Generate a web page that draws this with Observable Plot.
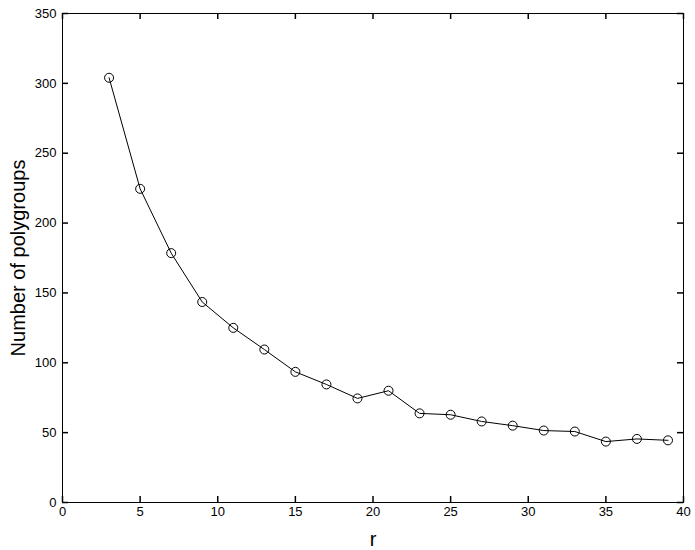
<!DOCTYPE html>
<html>
<head>
<meta charset="utf-8">
<script src="https://cdn.jsdelivr.net/npm/d3@7"></script>
<script src="https://cdn.jsdelivr.net/npm/@observablehq/plot@0.6"></script>
<style>
  html, body { margin: 0; padding: 0; background: #fff; }
  #chart svg { display: block; }
</style>
</head>
<body>
<div id="chart"></div>
<script>
const rValues = [3, 5, 7, 9, 11, 13, 15, 17, 19, 21, 23, 25, 27, 29, 31, 33, 35, 37, 39];
const polygroups = [304, 224.5, 178.5, 143.5, 125, 109.5, 93.5, 84.5, 74.5, 80, 63.8, 62.8, 58, 55, 51.5, 50.8, 43.6, 45.5, 44.5];
const xTicks = [0, 5, 10, 15, 20, 25, 30, 35, 40];
const yTicks = [0, 50, 100, 150, 200, 250, 300, 350];
const xDomain = [0, 40];
const yDomain = [0, 350];

const data = rValues.map((r, i) => ({r, n: polygroups[i]}));

const W = 695, H = 550, ML = 62, MR = 12, MT = 13, MB = 48, TICK = 6;
const frameW = W - ML - MR, frameH = H - MT - MB;
const tickLenY = (yDomain[1] - yDomain[0]) * TICK / frameH;
const tickLenX = (xDomain[1] - xDomain[0]) * TICK / frameW;

const tickStyle = {stroke: "#000", strokeWidth: 1.5, strokeOpacity: 1};

const chart = Plot.plot({
  width: W,
  height: H,
  marginLeft: ML,
  marginRight: MR,
  marginTop: MT,
  marginBottom: MB,
  style: {fontFamily: "'Liberation Sans', Arial, sans-serif", fontSize: "13px", color: "#000", background: "#fff"},
  x: {domain: xDomain},
  y: {domain: yDomain},
  marks: [
    Plot.frame({stroke: "#000", strokeWidth: 1}),
    Plot.axisX(xTicks, {anchor: "bottom", tickSize: 0, tickPadding: 4, label: "r", labelAnchor: "center", labelOffset: 43, labelArrow: "none", fontSize: 13}),
    Plot.axisY(yTicks, {anchor: "left", tickSize: 0, tickPadding: 6, label: "Number of polygroups", labelAnchor: "center", labelOffset: 52, labelArrow: "none", fontSize: 13}),
    Plot.ruleX(xTicks, {x: d => d, y1: yDomain[0], y2: yDomain[0] + tickLenY, ...tickStyle}),
    Plot.ruleX(xTicks, {x: d => d, y1: yDomain[1] - tickLenY, y2: yDomain[1], ...tickStyle}),
    Plot.ruleY(yTicks, {y: d => d, x1: xDomain[0], x2: xDomain[0] + tickLenX, ...tickStyle}),
    Plot.ruleY(yTicks, {y: d => d, x1: xDomain[1] - tickLenX, x2: xDomain[1], ...tickStyle}),
    Plot.line(data, {x: "r", y: "n", stroke: "#000", strokeWidth: 1}),
    Plot.dot(data, {x: "r", y: "n", r: 4.5, stroke: "#000", strokeWidth: 1, fill: "none"})
  ]
});

chart.querySelectorAll("g[aria-label$='-axis label'] text").forEach(t => t.setAttribute("font-size", "20"));
document.getElementById("chart").appendChild(chart);
</script>
</body>
</html>
